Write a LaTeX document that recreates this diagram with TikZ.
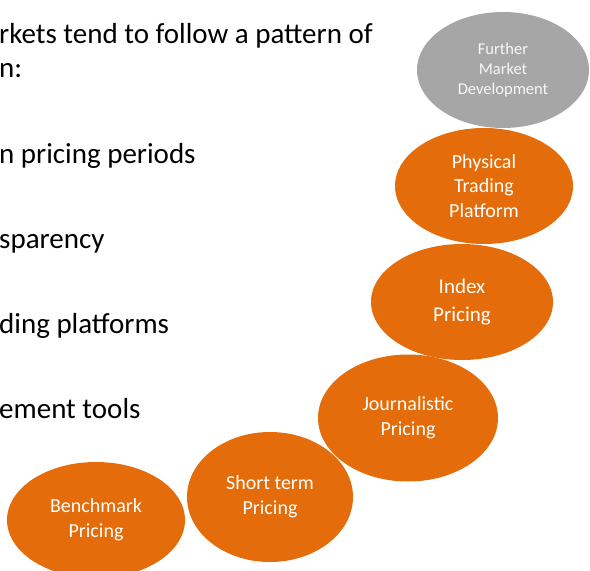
\documentclass[tikz,border=0pt]{standalone}
\usepackage{fontspec}
\setmainfont{Carlito}
\usetikzlibrary{shapes.geometric}
\definecolor{stageorange}{RGB}{228,108,10}
\definecolor{stagegray}{RGB}{166,166,166}

\begin{document}
\begin{tikzpicture}[x=1pt, y=-1pt,
  stage/.style={ellipse, fill=stageorange, text=white, inner sep=0pt, align=center,
    font=\fontsize{20}{24.5}\selectfont},
  bullet/.style={anchor=base west, inner sep=0pt, font=\fontsize{29}{34}\selectfont}]
  \useasboundingbox (0,0) rectangle (590,571);
  % text on the left, cut at the page edge
  \node (L1) [bullet] at (-1,43) {rkets tend to follow a pattern of};
  \node (L2) [bullet] at (-1,77) {n:};
  \node (L3) [bullet] at (-1,163) {n pricing periods};
  \node (L4) [bullet] at (-1,248) {sparency};
  \node (L5) [bullet] at (-1,333) {ding platforms};
  \node (L6) [bullet] at (-1,418) {ement tools};
  % the stages, bottom to top
  \node (Bench) [stage, minimum width=178pt, minimum height=116pt] at (96,520) {Benchmark\\Pricing};
  \node (Short) [stage, minimum width=166pt, minimum height=130pt] at (270,497) {Short term\\Pricing};
  \node (Journ) [stage, minimum width=180pt, minimum height=127pt] at (408,418) {Journalistic\\Pricing};
  \node (Index) [stage, minimum width=182pt, minimum height=116pt, font=\fontsize{21}{28}\selectfont] at (462,302) {Index\\Pricing};
  \node (Phys) [stage, minimum width=178pt, minimum height=116pt] at (484,186) {Physical\\Trading\\Platform};
  \node (Further) [stage, fill=stagegray, text=white!90!stagegray, minimum width=172pt, minimum height=116pt,
    font=\fontsize{16.5}{20}\selectfont] at (503,70) {Further\\Market\\Development};
\end{tikzpicture}
\end{document}
